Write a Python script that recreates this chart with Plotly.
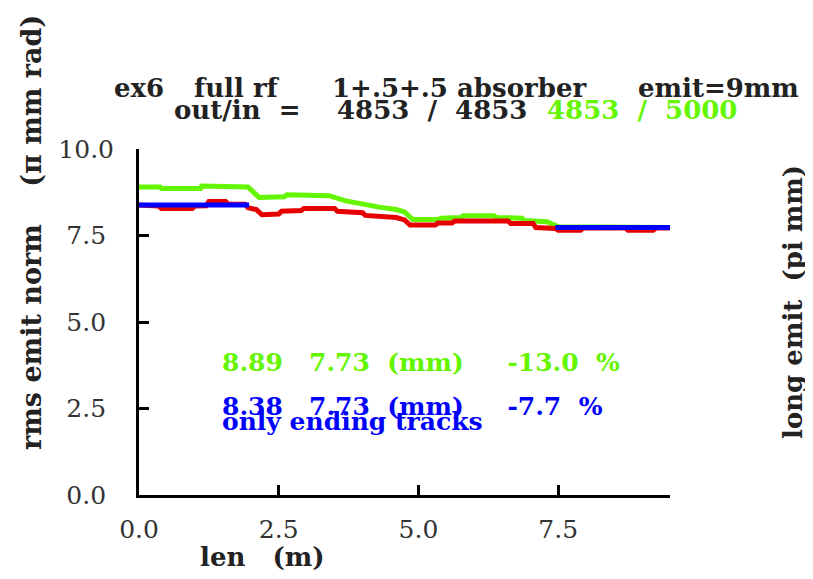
import plotly.graph_objects as go

# ---- data ----
green_x = [0, 0.38, 0.4, 1.1, 1.12, 1.45, 1.47, 1.95, 2.15, 2.6, 2.65, 3.4, 3.7, 4.0, 4.3, 4.6, 4.75,
           4.9, 5.35, 5.4, 5.75, 5.8, 6.35, 6.4, 6.85, 6.9, 7.3, 7.5, 9.5]
green_y = [8.9, 8.9, 8.86, 8.86, 8.93, 8.93, 8.9, 8.9, 8.6, 8.62, 8.68, 8.65, 8.5, 8.4, 8.32, 8.25, 8.18,
           7.96, 7.96, 8.0, 8.02, 8.07, 8.07, 8.02, 8.0, 7.93, 7.9, 7.75, 7.73]

red_x = [0, 0.35, 0.4, 0.95, 1.0, 1.2, 1.25, 1.55, 1.6, 1.9, 1.95, 2.1, 2.2, 2.5, 2.55, 2.9, 2.95, 3.5,
         3.55, 4.0, 4.05, 4.6, 4.75, 4.85, 5.3, 5.35, 5.6, 5.65, 6.6, 6.65, 7.05, 7.1, 7.45, 7.5, 7.9,
         7.95, 8.7, 8.75, 9.2, 9.25, 9.5]
red_y = [8.38, 8.35, 8.28, 8.28, 8.35, 8.36, 8.48, 8.48, 8.4, 8.4, 8.3, 8.25, 8.1, 8.12, 8.2, 8.22, 8.28,
         8.28, 8.2, 8.16, 8.08, 8.02, 7.95, 7.8, 7.8, 7.86, 7.86, 7.92, 7.92, 7.85, 7.85, 7.73, 7.7, 7.65,
         7.65, 7.72, 7.72, 7.65, 7.65, 7.72, 7.72]

blue_x = [0, 1.97, None, 7.45, 9.5]
blue_y = [8.38, 8.38, None, 7.73, 7.73]

x_ticks = [0, 2.5, 5.0, 7.5]
y_ticks = [0, 2.5, 5.0, 7.5, 10.0]

title1_parts = ["ex6", "full rf", "1+.5+.5 absorber", "emit=9mm"]
title2_parts = ["out/in  =", "4853  /  4853", "4853  /  5000"]
stat_green = "8.89   7.73  (mm)     -13.0  %"
stat_blue = "8.38   7.73  (mm)     -7.7  %"
note_blue = "only ending tracks"
ylabel = "rms emit norm    (π mm rad)"
ylabel2 = "long emit  (pi mm)"
xlabel = "len   (m)"

GREEN = "rgb(100,245,0)"
RED = "rgb(230,0,0)"
BLUE = "rgb(0,0,255)"
FONT = "DejaVu Serif"
NB = "\u00a0"

# page offset of the plot div (body margin) is 8 px
OFF = 8
PL, PR, PT, PB = 139, 670, 149, 495  # plot area in page pixels


def px(x):
    return (x - PL) / (PR - PL)


def py(y):
    return (PB - y) / (PB - PT)


fig = go.Figure()
fig.add_trace(go.Scatter(x=green_x, y=green_y, mode="lines", line=dict(color=GREEN, width=5)))
fig.add_trace(go.Scatter(x=red_x, y=red_y, mode="lines", line=dict(color=RED, width=5)))
fig.add_trace(go.Scatter(x=blue_x, y=blue_y, mode="lines", line=dict(color=BLUE, width=5), connectgaps=False))

fig.update_layout(
    width=813 - OFF, height=579 - OFF,
    margin=dict(l=PL - OFF, r=813 - PR, t=PT - OFF, b=579 - PB, pad=0),
    paper_bgcolor="white", plot_bgcolor="white",
    showlegend=False,
    font=dict(family=FONT, color="#333333", size=25),
    xaxis=dict(range=[0, 9.5], tickvals=x_ticks, ticktext=["%.1f" % v for v in x_ticks],
               showline=True, linecolor="black", linewidth=3, ticks="inside", ticklen=10,
               tickwidth=3, tickcolor="black", showgrid=False, zeroline=False, ticklabelstandoff=10),
    yaxis=dict(range=[0, 10], tickvals=y_ticks,
               ticktext=[("%.1f" % v) if v >= 10 else ("%.1f" % v) + NB for v in y_ticks],
               showline=True, linecolor="black", linewidth=3, ticks="inside", ticklen=10,
               tickwidth=3, tickcolor="black", showgrid=False, zeroline=False, ticklabelstandoff=17),
)

bold = dict(family=FONT, size=26, color="#222222")


def add_text(text, x, y, font, xanchor="left", angle=0):
    fig.add_annotation(text=text, xref="paper", yref="paper", x=px(x), y=py(y),
                       xanchor=xanchor, yanchor="middle", showarrow=False, font=font,
                       textangle=angle)


# title line 1 (word groups placed as in the reference)
for part, x0 in zip(title1_parts, [112, 192, 330, 636]):
    add_text("<b>%s</b>" % part, x0, 88, bold)
# title line 2
add_text("<b>%s</b>" % title2_parts[0], 172, 110, bold)
add_text("<b>%s</b>" % title2_parts[1], 335, 110, bold)
add_text("<b>%s</b>" % title2_parts[2], 545, 110, dict(family=FONT, size=26, color=GREEN))

add_text("<b>%s</b>" % stat_green, 220, 362, dict(family=FONT, size=25, color=GREEN))
add_text("<b>%s</b>" % stat_blue, 220, 406, dict(family=FONT, size=25, color=BLUE))
add_text("<b>%s</b>" % note_blue, 220, 421, dict(family=FONT, size=25, color=BLUE))
add_text("<b>%s</b>" % ylabel, 31, 233, dict(family=FONT, size=27, color="#222222"),
         xanchor="center", angle=-90)
add_text("<b>%s</b>" % ylabel2, 793, 302, bold, xanchor="center", angle=-90)
add_text("<b>%s</b>" % xlabel, 262, 557, bold, xanchor="center")

fig.write_html("out.html")
